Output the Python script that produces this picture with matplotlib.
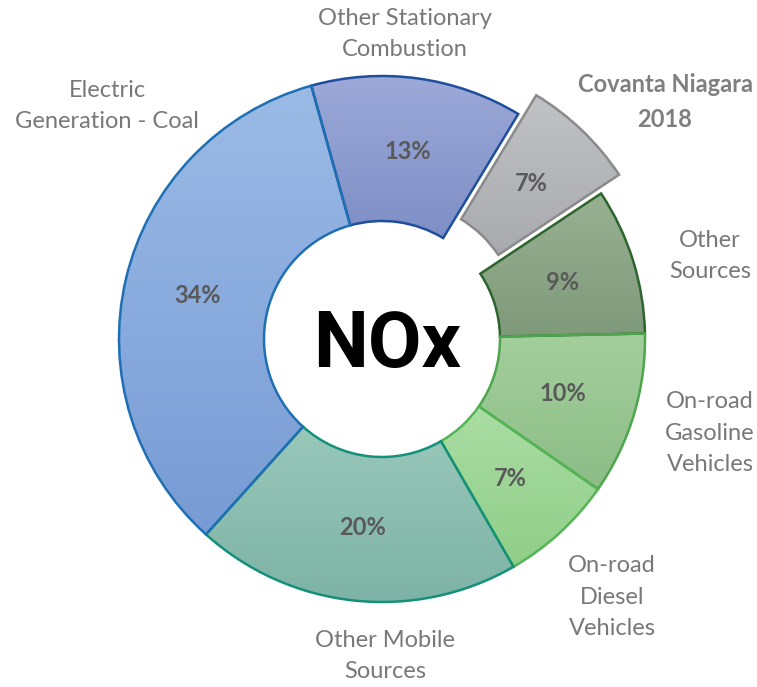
import numpy as np
import matplotlib
matplotlib.use("Agg")
import matplotlib.pyplot as plt
from matplotlib import font_manager
from matplotlib.colors import to_rgb

# ---------------- data ----------------
categories = ["Other Stationary\nCombustion", "Covanta Niagara\n2018", "Other\nSources",
              "On-road\nGasoline\nVehicles", "On-road\nDiesel\nVehicles",
              "Other Mobile\nSources", "Electric\nGeneration - Coal"]
shares = [13, 7, 9, 10, 7, 20, 34]
highlight = [False, True, False, False, False, False, False]
center_title = "NOx"

# ---------------- style ----------------
top_colors = ["#9CA9D8", "#C0C2C6", "#98B192", "#A4CF9D", "#AADDA3", "#99C8BA", "#9BBBE6"]
bottom_colors = ["#7E8FC6", "#A8AAAE", "#7F997B", "#8CBD86", "#90CE88", "#7DB3A6", "#789BD5"]
edge_colors = ["#1F4E9C", "#8A8A8A", "#2E642E", "#4DA64D", "#55B455", "#14907A", "#1E6FB4"]
label_pos = [(405, 34), (665, 102), (710, 256), (710, 433), (612, 597), (385, 656), (107, 106)]

names = {f.name for f in font_manager.fontManager.ttflist}
label_font = "Lato" if "Lato" in names else "DejaVu Sans"
nox_font = "Roboto" if "Roboto" in names else "DejaVu Sans"

W, H = 757, 687
fig = plt.figure(figsize=(W / 100, H / 100), dpi=100)
ax = fig.add_axes([0, 0, 1, 1])

cx, cy = 382, H - 339
R, r_in = 263, 118

wedges, texts, autotexts = ax.pie(
    shares, radius=R, center=(cx, cy), startangle=105.6, counterclock=False,
    explode=[26 if h else 0 for h in highlight],
    autopct=lambda p: f"{p:.0f}%", pctdistance=0.72,
    wedgeprops=dict(width=R - r_in, linewidth=1.8),
    textprops=dict(fontsize=17, fontweight="bold", color="#595959", family=label_font))

for w, tc, bc, ec in zip(wedges, top_colors, bottom_colors, edge_colors):
    ext = w.get_path().get_extents()
    t = np.array(to_rgb(tc))
    b = np.array(to_rgb(bc))
    f = np.linspace(0, 1, 256)[:, None, None]
    img = t * (1 - f) + b * f
    img = np.repeat(img, 2, axis=1)
    im = ax.imshow(img, extent=(ext.x0, ext.x1, ext.y0, ext.y1), origin="upper",
                   aspect="auto", interpolation="bilinear", zorder=0.9)
    im.set_clip_path(w)
    w.set_facecolor("none")
    w.set_edgecolor(ec)
    w.set_zorder(1)

for t in autotexts:
    t.set_zorder(3)

for cat, (lx, ly), h in zip(categories, label_pos, highlight):
    ax.text(lx, H - ly, cat, ha="center", va="center", fontsize=17,
            family=label_font, color="#7F7F7F" if h else "#787878",
            fontweight="bold" if h else "normal", linespacing=1.62, zorder=3)

ax.text(387, H - 367, center_title, ha="center", va="baseline", fontsize=56,
        family=nox_font, fontweight="bold", color="black", zorder=3)

ax.set_xlim(0, W)
ax.set_ylim(0, H)
ax.set_aspect("equal")
ax.axis("off")
fig.savefig("out.png", dpi=100)
